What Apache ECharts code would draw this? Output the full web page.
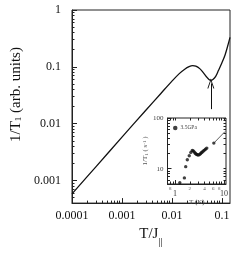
<!DOCTYPE html>
<html><head><meta charset="utf-8">
<script src="https://cdn.jsdelivr.net/npm/echarts@6/dist/echarts.min.js"></script>
<style>html,body{margin:0;padding:0;background:#fff}#c{width:249px;height:253px}</style>
</head><body><div id="c"></div>
<script>
// main curve: T/J_parallel vs 1/T1 (arb. units)
const mainT     = [0.0001, 0.0003, 0.001, 0.003, 0.006, 0.01, 0.014, 0.018, 0.022, 0.026, 0.03, 0.036, 0.042, 0.049, 0.055, 0.06, 0.066, 0.075, 0.085, 0.1, 0.115, 0.13, 0.145];
const mainRelax = [0.00058, 0.00174, 0.0058, 0.0172, 0.034, 0.056, 0.076, 0.091, 0.101, 0.105, 0.103, 0.093, 0.08, 0.067, 0.06, 0.058, 0.06, 0.068, 0.086, 0.118, 0.16, 0.23, 0.33];
const mainXLabels = [0.0001, 0.001, 0.01, 0.1];
const mainYLabels = [0.001, 0.01, 0.1, 1];
const arrowT = [0.06, 0.06];
const arrowRelax = [0.018, 0.051];
// inset: T (K) vs 1/T1 (s^-1), 3.5GPa
const insetT    = [1.25, 1.55, 1.65, 1.78, 1.95, 2.1, 2.25, 2.35, 2.45, 2.55, 2.65, 2.75, 2.85, 3.0, 3.15, 3.3, 3.45, 3.6, 3.8, 4.0, 4.2, 4.45, 6.2];
const insetRate = [5.3, 6.6, 11, 15, 18, 21, 23, 22.5, 21.5, 20.5, 19.8, 19.2, 18.8, 18.6, 19, 19.8, 20.6, 21.4, 22.3, 23.3, 24.3, 25.5, 32];
const insetLineT = [6.2, 10.5];
const insetLineRate = [32, 54];
const insetXMajorLabels = [1, 10];
const insetXMinorLabels = [0.8, 2, 4, 6, 8];
const insetYLabels = [10, 100];

function decadeTicks(lo, hi) {
  const out = [];
  for (let d = lo; d <= hi * 1.0001; d *= 10) for (let k = 1; k <= 9; k++) out.push(Number((k * d).toPrecision(6)));
  return out;
}
const serif = 'Liberation Serif';
const ink = '#222';
const fmt = v => String(Number(Number(v).toPrecision(6)));
const digitFmt = v => String(Math.round(v < 1 ? v * 10 : v));

const chart = echarts.init(document.getElementById('c'), null, {renderer: 'canvas'});
const mainMinorX = decadeTicks(0.0001, 0.1).filter(v => v <= 0.145);
const mainMinorY = decadeTicks(0.0001, 0.1).filter(v => v >= 0.0004 && v <= 1);
const inMinorX = decadeTicks(0.1, 10).filter(v => v >= 0.7 && v <= 11);
const inMinorY = decadeTicks(1, 100).filter(v => v >= 5 && v <= 100);

const lineStyleAx = {color: ink, width: 1};
chart.setOption({
  animation: false,
  backgroundColor: '#fff',
  grid: [
    {left: 72, right: 19, top: 10, bottom: 45, show: true, borderColor: ink, borderWidth: 1, backgroundColor: 'transparent'},
    {left: 167.5, right: 23, top: 118, bottom: 69, show: true, borderColor: ink, borderWidth: 1, backgroundColor: '#fff'}
  ],
  legend: {
    data: ['3.5GPa'], left: 173, top: 125, itemWidth: 4.5, itemHeight: 4.5, itemGap: 2, padding: 0,
    icon: 'circle', textStyle: {fontFamily: serif, fontSize: 5.5, color: '#444', padding: [0, 0, 0, -2]}
  },
  xAxis: [
    {gridIndex: 0, type: 'log', min: 0.0001, max: 0.145, position: 'bottom',
     name: 'T/J{s|||}', nameLocation: 'middle', nameGap: 16,
     nameTextStyle: {fontFamily: serif, fontSize: 15, color: '#111', rich: {s: {fontFamily: serif, fontSize: 11, lineHeight: 11, verticalAlign: 'bottom', padding: [0, 0, -6, 0]}}},
     axisLine: {show: true, lineStyle: lineStyleAx},
     axisTick: {show: true, inside: true, length: 5, customValues: mainXLabels, lineStyle: lineStyleAx},
     axisLabel: {customValues: mainXLabels, formatter: fmt, fontFamily: serif, fontSize: 12, color: '#111', margin: 7},
     splitLine: {show: false}},
    {gridIndex: 0, type: 'log', min: 0.0001, max: 0.145, position: 'bottom',
     axisLine: {show: false}, axisLabel: {show: false}, splitLine: {show: false},
     axisTick: {show: true, inside: true, length: 2.5, customValues: mainMinorX, lineStyle: lineStyleAx}},
    {gridIndex: 1, type: 'log', min: 0.7, max: 11, position: 'bottom',
     name: 'T (K)', nameLocation: 'middle', nameGap: 14,
     nameTextStyle: {fontFamily: serif, fontSize: 7, color: '#444'},
     axisLine: {show: true, lineStyle: lineStyleAx},
     axisTick: {show: true, inside: true, length: 4, customValues: insetXMajorLabels, lineStyle: lineStyleAx},
     axisLabel: {customValues: insetXMajorLabels, formatter: fmt, fontFamily: serif, fontSize: 8, color: '#333', margin: 6},
     splitLine: {show: false}},
    {gridIndex: 1, type: 'log', min: 0.7, max: 11, position: 'bottom',
     axisLine: {show: false}, splitLine: {show: false},
     axisTick: {show: true, inside: true, length: 2.5, customValues: inMinorX, lineStyle: lineStyleAx},
     axisLabel: {customValues: insetXMinorLabels, formatter: digitFmt, fontFamily: serif, fontSize: 5, color: '#555', margin: 2}},
    {gridIndex: 1, type: 'log', min: 0.7, max: 11, position: 'top',
     axisLine: {show: false}, axisLabel: {show: false}, splitLine: {show: false},
     axisTick: {show: true, inside: true, length: 2.5, customValues: inMinorX, lineStyle: lineStyleAx}}
  ],
  yAxis: [
    {gridIndex: 0, type: 'log', min: 0.0004, max: 1, position: 'left',
     name: '1/T{s|1} (arb. units)', nameLocation: 'middle', nameGap: 46,
     nameTextStyle: {fontFamily: serif, fontSize: 15, color: '#111', padding: [0, 0, 0, 24], rich: {s: {fontFamily: serif, fontSize: 9, lineHeight: 9, verticalAlign: 'bottom'}}},
     axisLine: {show: true, lineStyle: lineStyleAx},
     axisTick: {show: true, inside: true, length: 5, customValues: mainYLabels, lineStyle: lineStyleAx},
     axisLabel: {customValues: mainYLabels, formatter: fmt, fontFamily: serif, fontSize: 12, color: '#111', margin: 11},
     splitLine: {show: false}},
    {gridIndex: 0, type: 'log', min: 0.0004, max: 1, position: 'left',
     axisLine: {show: false}, axisLabel: {show: false}, splitLine: {show: false},
     axisTick: {show: true, inside: true, length: 2.5, customValues: mainMinorY, lineStyle: lineStyleAx}},
    {gridIndex: 1, type: 'log', min: 5, max: 100, position: 'left',
     name: '1/T{s|1} ( s{p|-1} )', nameLocation: 'middle', nameGap: 12,
     nameTextStyle: {fontFamily: serif, fontSize: 7, color: '#555', rich: {s: {fontSize: 5, lineHeight: 5, verticalAlign: 'bottom'}, p: {fontSize: 5, lineHeight: 5, verticalAlign: 'top'}}},
     axisLine: {show: true, lineStyle: lineStyleAx},
     axisTick: {show: true, inside: true, length: 4, customValues: insetYLabels, lineStyle: lineStyleAx},
     axisLabel: {customValues: insetYLabels, formatter: fmt, fontFamily: serif, fontSize: 7, color: '#444', margin: 4},
     splitLine: {show: false}},
    {gridIndex: 1, type: 'log', min: 5, max: 100, position: 'left',
     axisLine: {show: false}, axisLabel: {show: false}, splitLine: {show: false},
     axisTick: {show: true, inside: true, length: 2.5, customValues: inMinorY, lineStyle: lineStyleAx}},
    {gridIndex: 1, type: 'log', min: 5, max: 100, position: 'right',
     axisLine: {show: false}, axisLabel: {show: false}, splitLine: {show: false},
     axisTick: {show: true, inside: true, length: 2.5, customValues: inMinorY, lineStyle: lineStyleAx}}
  ],
  series: [
    {type: 'line', xAxisIndex: 0, yAxisIndex: 0, data: mainT.map((t, i) => [t, mainRelax[i]]),
     smooth: 0.35, symbol: 'none', lineStyle: {color: '#111', width: 1.3}, silent: true,
     markLine: {silent: true, animation: false, symbol: ['none', 'path://M0,10 L5,0 L10,10 L8.6,10 L5,2.6 L1.4,10 Z'], symbolSize: [7, 10],
       label: {show: false}, lineStyle: {color: '#111', width: 1, type: 'solid'},
       data: [[{coord: [arrowT[0], arrowRelax[0]]}, {coord: [arrowT[1], arrowRelax[1]]}]]}},
    {type: 'line', xAxisIndex: 2, yAxisIndex: 2, data: insetLineT.map((t, i) => [t, insetLineRate[i]]),
     symbol: 'none', lineStyle: {color: '#333', width: 0.8}, silent: true},
    {name: '3.5GPa', type: 'scatter', xAxisIndex: 2, yAxisIndex: 2, data: insetT.map((t, i) => [t, insetRate[i]]),
     symbol: 'circle', symbolSize: 3.4, itemStyle: {color: '#111'}, silent: true}
  ]
});
</script></body></html>
